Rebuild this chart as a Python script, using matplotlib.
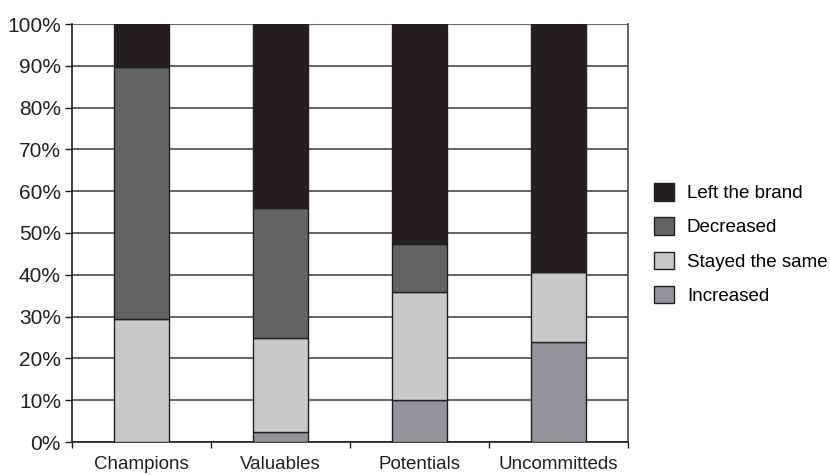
import matplotlib
matplotlib.use("Agg")
import matplotlib.pyplot as plt
import numpy as np

categories = ["Champions", "Valuables", "Potentials", "Uncommitteds"]
increased = [0.0, 2.3, 10.0, 24.0]
stayed = [29.5, 22.6, 25.8, 16.6]
decreased = [60.1, 31.0, 11.5, 0.0]
left_brand = [10.4, 44.1, 52.7, 59.4]

series = [
    ("Increased", increased, "#939598"),
    ("Stayed the same", stayed, "#c8c9ca"),
    ("Decreased", decreased, "#626365"),
    ("Left the brand", left_brand, "#231f20"),
]

plt.rcParams['font.family'] = ['Liberation Sans', 'DejaVu Sans']

fig = plt.figure(figsize=(8.3, 4.75), dpi=100)
ax = fig.add_axes([72/830, 33/475, 556/830, 418/475])

x = np.arange(len(categories))
bottom = np.zeros(len(categories))
handles = []
for name, vals, col in series:
    b = ax.bar(x, vals, bottom=bottom, width=0.4, color=col, edgecolor="#231f20",
               linewidth=1.0, label=name, zorder=3)
    handles.append(b)
    bottom += np.array(vals)

ax.set_xlim(-0.5, len(categories) - 0.5)
ax.set_ylim(0, 100)
ax.set_yticks(np.arange(0, 101, 10))
ax.set_yticklabels([f"{v}%" for v in range(0, 101, 10)], fontsize=15, color="#231f20")
ax.yaxis.grid(True, color="#4a4a4a", linewidth=1.2, zorder=0)
ax.set_axisbelow(True)

ax.set_xticks(x)
ax.set_xticklabels(categories, fontsize=13.5, color="#231f20")
ax.tick_params(axis="x", length=0, pad=10)
ax.set_xticks(np.arange(-0.5, len(categories), 1), minor=True)
ax.tick_params(axis="x", which="minor", length=4, width=1, color="#231f20")
ax.tick_params(axis="y", length=5, width=1, color="#231f20", pad=3)

for s in ["left", "bottom", "right"]:
    ax.spines[s].set_color("#231f20")
    ax.spines[s].set_linewidth(1.2)
ax.spines["top"].set_visible(False)
ax.spines["right"].set_color("#4a4a4a")

leg = fig.legend(handles[::-1], [s[0] for s in series][::-1],
                 loc="center left", bbox_to_anchor=(654/830, (475 - 244) / 475),
                 frameon=False, fontsize=13.5, handlelength=1.05, handleheight=1.05,
                 labelspacing=0.8, handletextpad=0.7, borderaxespad=0, borderpad=0)

fig.savefig("out.png", dpi=100)
